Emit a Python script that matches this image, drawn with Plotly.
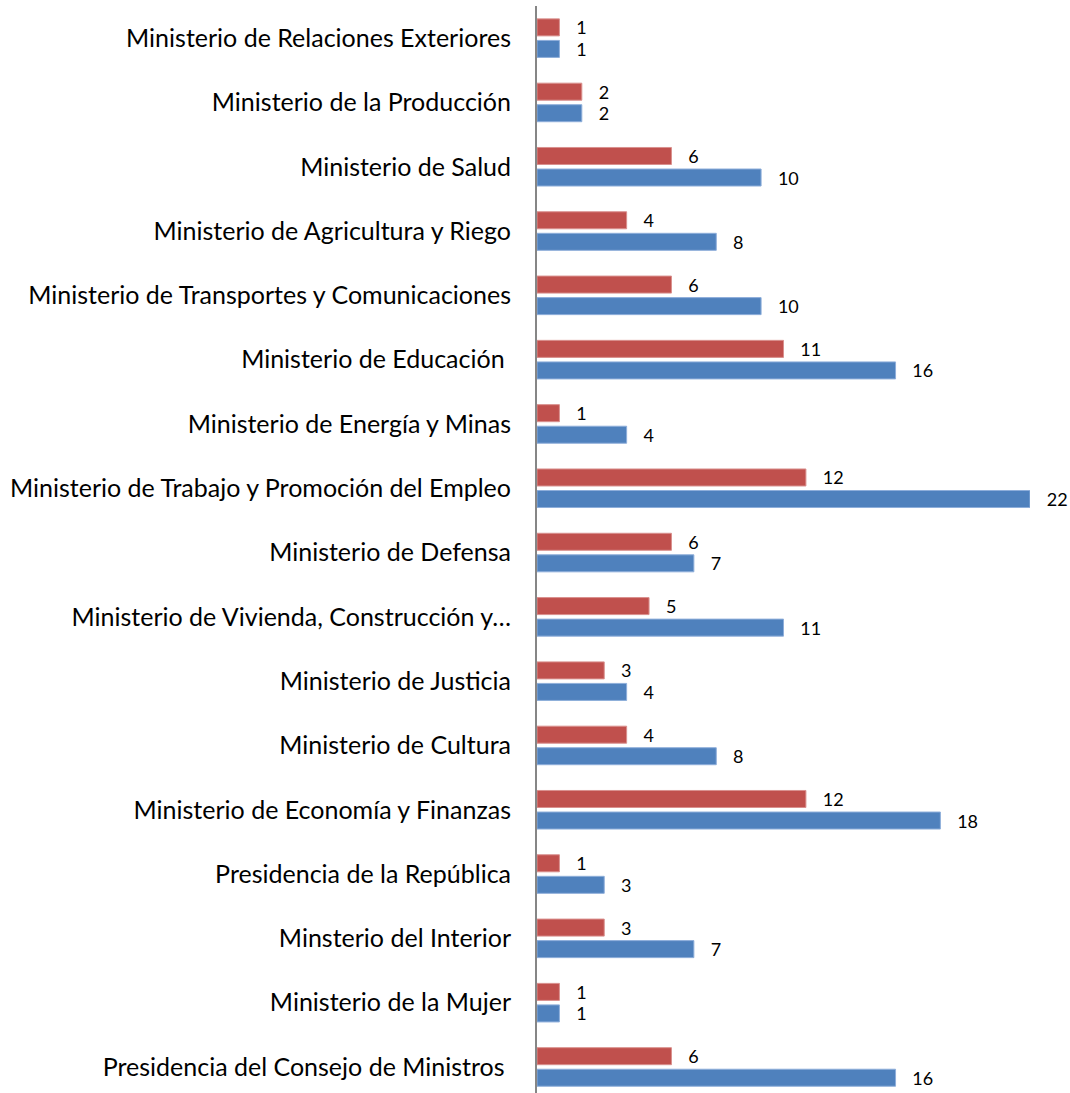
import plotly.graph_objects as go

categories = [
    "Ministerio de Relaciones Exteriores",
    "Ministerio de la Producción",
    "Ministerio de Salud",
    "Ministerio de Agricultura y Riego",
    "Ministerio de Transportes y Comunicaciones",
    "Ministerio de Educación\u00a0",
    "Ministerio de Energía y Minas",
    "Ministerio de Trabajo y Promoción del Empleo",
    "Ministerio de Defensa",
    "Ministerio de Vivienda, Construcción y…",
    "Ministerio de Justicia",
    "Ministerio de Cultura",
    "Ministerio de Economía y Finanzas",
    "Presidencia de la República",
    "Minsterio del Interior",
    "Ministerio de la Mujer",
    "Presidencia del Consejo de Ministros\u00a0",
]
red_values = [1, 2, 6, 4, 6, 11, 1, 12, 6, 5, 3, 4, 12, 1, 3, 1, 6]
blue_values = [1, 2, 10, 8, 10, 16, 4, 22, 7, 11, 4, 8, 18, 3, 7, 1, 16]

RED = "#C0504D"
BLUE = "#4F81BD"
pad = "\u00a0" * 3

fig = go.Figure()
fig.add_trace(go.Bar(
    y=categories, x=red_values, orientation="h", name="Serie 1",
    marker=dict(color=RED, line=dict(color="#D9908E", width=1)),
    texttemplate=pad + "%{x}", textposition="outside", constraintext="none",
    textfont=dict(family="Lato", size=18, color="#000000"),
    cliponaxis=False,
))
fig.add_trace(go.Bar(
    y=categories, x=blue_values, orientation="h", name="Serie 2",
    marker=dict(color=BLUE, line=dict(color="#8EAEDA", width=1)),
    texttemplate=pad + "%{x}", textposition="outside", constraintext="none",
    textfont=dict(family="Lato", size=18, color="#000000"),
    cliponaxis=False,
))

fig.update_layout(
    width=1070, height=1093,
    margin=dict(l=537, r=40, t=6, b=0),
    barmode="group", bargap=0.33, bargroupgap=0.21,
    showlegend=False,
    plot_bgcolor="white", paper_bgcolor="white",
    font=dict(family="Lato", color="#000000"),
    xaxis=dict(visible=False, range=[0, 22], fixedrange=True),
    yaxis=dict(
        type="category", range=[16.405, -0.5], fixedrange=True,
        showline=True, linecolor="#868686", linewidth=2,
        showgrid=False, zeroline=False, ticks="",
        ticklabelstandoff=19,
        tickfont=dict(family="Lato", size=25, color="#000000"),
    ),
)

fig.write_html(
    "out.html",
    config={"displayModeBar": False},
    post_script="document.body.style.margin='0';document.body.style.padding='0';document.body.style.overflow='hidden';",
)
